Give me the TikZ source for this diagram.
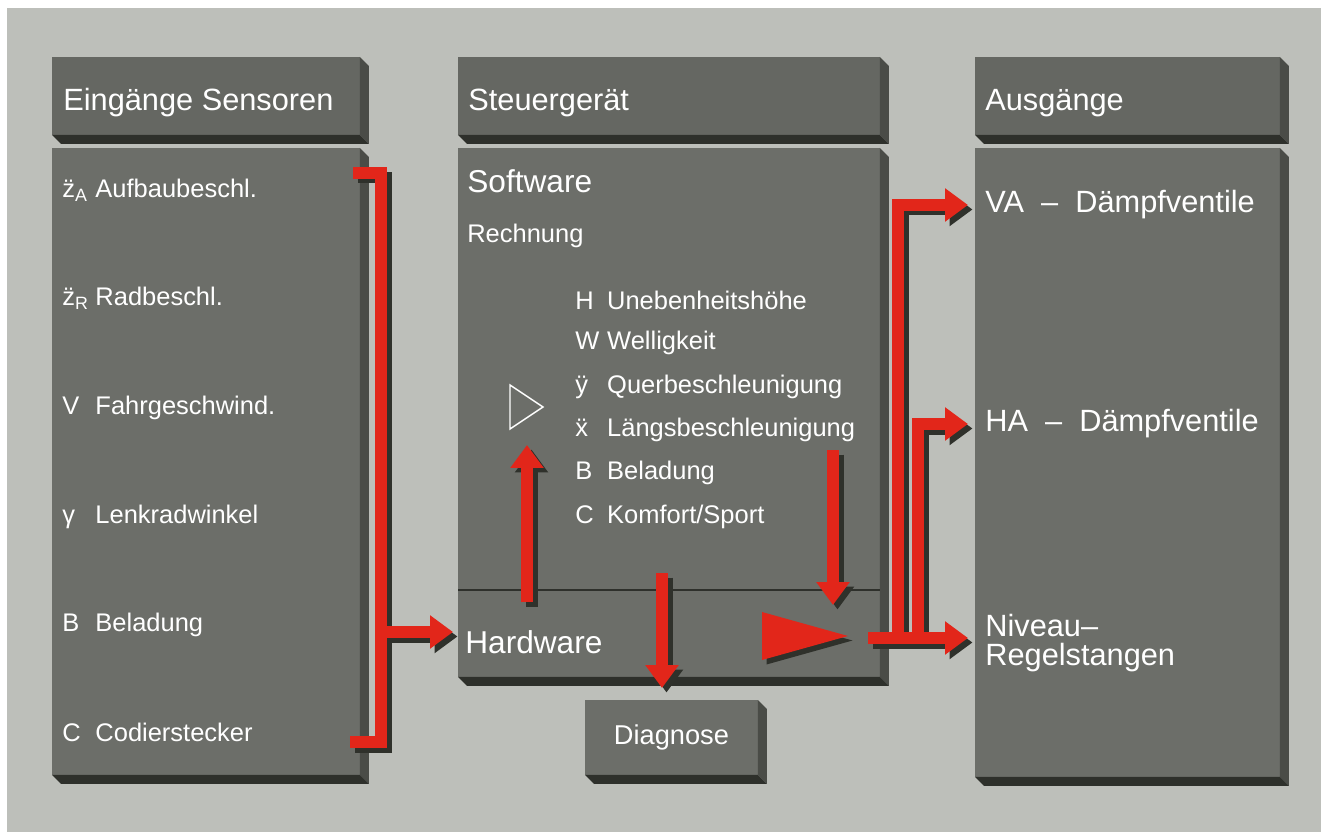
\documentclass[tikz,border=0pt]{standalone}
\usepackage{fontspec}
\setmainfont{Liberation Sans}
\usetikzlibrary{arrows.meta,calc}
\definecolor{paper}{HTML}{BDBFBA}
\definecolor{slab}{HTML}{6C6E69}
\definecolor{slabtop}{HTML}{656762}
\definecolor{slabside}{HTML}{4A4C47}
\definecolor{slabbase}{HTML}{2E302B}
\definecolor{signal}{HTML}{E2261A}
\definecolor{umbra}{HTML}{2F312B}

% red signal lines, drawn once as shadow and once on top
\newcommand\signalpaths{%
  \fill[wedge] (762,612) -- (848,636) -- (762,660) -- cycle;
  \draw[pipe] (tapT) -| (spine) -- (tapB);
  \draw[flow] (busL) -- ($(hw.west |- busL)+(-12,0)$);
  \draw[flow] (upS) -- (upE);
  \draw[flow] (dnS) -- (dnE);
  \draw[flow, shorten >=0.24cm] (dgS) -- (dgS |- diag.north);
  \draw[flow] (brVA) |- ($(va.west)+(-17,0)$);
  \draw[flow] (brHA) |- ($(ha.west)+(-17,0)$);
  \draw[flow] (outbus) -- ($(niv.west |- outbus)+(-17,0)$);
}

\begin{document}
\begin{tikzpicture}[x=0.02cm, y=-0.02cm,
  slabbox/.style={fill=slab, inner sep=0pt, outer sep=0pt, anchor=north west},
  head/.style={font=\fontsize{17.5}{20}\selectfont, text=white, anchor=west, inner sep=0pt},
  item/.style={font=\fontsize{14.5}{17}\selectfont, text=white, anchor=west, inner sep=0pt},
  pipe/.style={draw=signal, line width=0.24cm},
  wedge/.style={fill=signal},
  flow/.style={pipe, -{Triangle[length=0.46cm, width=0.64cm]}}
]
\useasboundingbox (0,0) rectangle (1329,838);
\fill[white] (0,0) rectangle (1329,838);
\fill[paper] (7,8) rectangle (1321,832);

% slabs
\node[slabbox, fill=slabtop, minimum width=6.16cm, minimum height=1.56cm] (inhead) at (52,57) {};
\node[slabbox, minimum width=6.16cm, minimum height=12.54cm] (inbody) at (52,148) {};
\node[slabbox, fill=slabtop, minimum width=8.44cm, minimum height=1.56cm] (cuhead) at (458,57) {};
\node[slabbox, minimum width=8.44cm, minimum height=10.58cm] (cubody) at (458,148) {};
\node[slabbox, minimum width=3.46cm, minimum height=1.5cm] (diag) at (585,700) {};
\node[slabbox, fill=slabtop, minimum width=6.1cm, minimum height=1.56cm] (outhead) at (975,57) {};
\node[slabbox, minimum width=6.1cm, minimum height=12.58cm] (outbody) at (975,148) {};

\foreach \n in {inhead,inbody,cuhead,cubody,diag,outhead,outbody}{
  \fill[slabside] (\n.north east) -- ++(9,9) -- ($(\n.south east)+(9,9)$) -- (\n.south east) -- cycle;
  \fill[slabbase] (\n.south west) -- ++(9,9) -- ($(\n.south east)+(9,9)$) -- (\n.south east) -- cycle;
}
\coordinate (sepY) at (0,590);
\draw[slabbase, line width=0.04cm] (cubody.west |- sepY) -- (cubody.east |- sepY);

% headers
\node[head] (inlabel) at (63,103) {Eingänge Sensoren};
\node[head] (culabel) at (468,103) {Steuergerät};
\node[head] (outlabel) at (985,103) {Ausgänge};

% inputs
\node[item] (zA) at (62,190) {\makebox[1.3em][l]{\"z\textsubscript{A}}Aufbaubeschl.};
\node[item] (zR) at (62,298) {\makebox[1.3em][l]{\"z\textsubscript{R}}Radbeschl.};
\node[item] (vel) at (62,408) {\makebox[1.3em][l]{V}Fahrgeschwind.};
\node[item] (steer) at (62,517) {\makebox[1.3em][l]{γ}Lenkradwinkel};
\node[item] (load) at (62,625) {\makebox[1.3em][l]{B}Beladung};
\node[item] (code) at (62,732) {\makebox[1.3em][l]{C}Codierstecker};

% control unit
\node[head, font=\fontsize{18}{20}\selectfont] (sw) at (467,181) {Software};
\node[item] (calc) at (467,236) {Rechnung};
\node[item] (hH) at (575,300) {\makebox[1.25em][l]{H}Unebenheitshöhe};
\node[item] (hW) at (575,343) {\makebox[1.25em][l]{W}Welligkeit};
\node[item] (hy) at (575,387) {\makebox[1.25em][l]{ÿ}Querbeschleunigung};
\node[item] (hx) at (575,430) {\makebox[1.25em][l]{\"x}Längsbeschleunigung};
\node[item] (hB) at (575,473) {\makebox[1.25em][l]{B}Beladung};
\node[item] (hC) at (575,517) {\makebox[1.25em][l]{C}Komfort/Sport};
\node[head, font=\fontsize{18}{20}\selectfont] (hw) at (465,642) {Hardware};
\node[item, font=\fontsize{15.5}{18}\selectfont, anchor=center] (diaglabel) at (diag.center) {Diagnose};

% outputs
\node[head] (va) at (985,205) {VA \ -- \ Dämpfventile};
\node[head] (ha) at (985,424) {HA \ -- \ Dämpfventile};
\node[head, align=left, font=\fontsize{17.5}{16.5}\selectfont] (niv) at (985,643) {Niveau--\\Regelstangen};

% open triangle
\draw[white, line width=0.8pt, line join=miter] (510,385) -- (543,407) -- (510,429) -- cycle;

% signal flow
\coordinate (tapT) at (353,173);
\coordinate (spine) at (381,742);
\coordinate (tapB) at (350,742);
\coordinate (busL) at (381,632);
\coordinate (upS) at (527,602);
\coordinate (upE) at (527,445);
\coordinate (dnS) at (833,450);
\coordinate (dnE) at (833,605);
\coordinate (dgS) at (662,573);
\coordinate (outbus) at (868,638);
\coordinate (brVA) at (898,638);
\coordinate (brHA) at (918,638);

\begin{scope}[transform canvas={shift={(0.09cm,-0.09cm)}},
  pipe/.style={draw=umbra, line width=0.24cm}, wedge/.style={fill=umbra}]
  \signalpaths
\end{scope}
\signalpaths
\end{tikzpicture}
\end{document}
